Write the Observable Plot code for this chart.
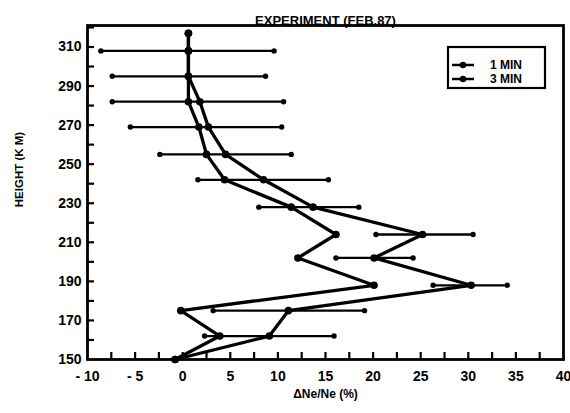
<!DOCTYPE html>
<html>
<head>
<meta charset="utf-8">
<script src="https://cdn.jsdelivr.net/npm/d3@7"></script>
<script src="https://cdn.jsdelivr.net/npm/@observablehq/plot@0.6"></script>
<style>
  html, body { margin: 0; padding: 0; background: #fff; }
  #chart { position: relative; width: 570px; height: 413px; }
</style>
</head>
<body>
<div id="chart"></div>
<script>
// Heights (km) of the measurement levels
const heights = [150, 162, 175, 188, 202, 214, 228, 242, 255, 269, 282, 295, 308, 317];
// ΔNe/Ne (%) for the two series
const min1 = [-0.8, 3.9, -0.2, 20.1, 12.1, 16.1, 11.4, 4.4, 2.5, 1.7, 0.6, 0.6, 0.6, 0.6];
const min3 = [-0.8, 9.1, 11.1, 30.3, 20.1, 25.2, 13.7, 8.5, 4.5, 2.7, 1.8, 0.6, 0.6, 0.6];
// Error bar extents (for the 3 MIN series)
const errLo = [null, 2.3, 3.2, 26.3, 16.1, 20.3, 8.0, 1.6, -2.4, -5.5, -7.4, -7.4, -8.6, null];
const errHi = [null, 15.9, 19.1, 34.1, 24.2, 30.5, 18.5, 15.3, 11.4, 10.4, 10.6, 8.7, 9.6, null];
// Axis ticks
const xTickLabels = [-10, -5, 0, 5, 10, 15, 20, 25, 30, 35, 40];
const xMinorTicks = [-7.5, -5, -2.5, 0, 2.5, 5, 7.5, 10, 12.5, 15, 17.5, 20, 22.5, 25, 27.5, 30, 32.5, 35, 37.5];
const yTickLabels = [150, 170, 190, 210, 230, 250, 270, 290, 310];
const yMinorTicks = [160, 170, 180, 190, 200, 210, 220, 230, 240, 250, 260, 270, 280, 290, 300, 310, 320];
const seriesNames = ["1 MIN", "3 MIN"];
const title = "EXPERIMENT (FEB.87)";
const xLabel = "ΔNe/Ne (%)";
const yLabel = "HEIGHT (K M)";

const xDomain = [-10, 40], yDomain = [150, 321];
const W = 570, H = 413, mL = 87, mR = 7, mT = 25, mB = 54;
// tick length (7 px) expressed in data units of each axis
const tickLenY = 7 * (yDomain[1] - yDomain[0]) / (H - mT - mB);
const tickLenX = 7 * (xDomain[1] - xDomain[0]) / (W - mL - mR);

const s1 = heights.map((h, i) => ({h, v: min1[i]}));
const s3 = heights.map((h, i) => ({h, v: min3[i]}));
const errs = heights.map((h, i) => ({h, lo: errLo[i], hi: errHi[i]})).filter(d => d.lo != null);
const xTickData = xMinorTicks.map(v => ({v, a: yDomain[0], b: yDomain[0] + tickLenY}));
const yTickData = yMinorTicks.map(v => ({v, a: xDomain[0], b: xDomain[0] + tickLenX}));

const font = "Liberation Sans, Arial, sans-serif";

const plot = Plot.plot({
  width: W,
  height: H,
  marginLeft: mL,
  marginRight: mR,
  marginTop: mT,
  marginBottom: mB,
  style: {fontFamily: font, fontWeight: "bold", fontSize: "14px", background: "#fff", color: "#000"},
  x: {domain: xDomain},
  y: {domain: yDomain},
  marks: [
    // inward ticks
    Plot.ruleX(xTickData, {x: "v", y1: "a", y2: "b", stroke: "#000", strokeWidth: 2.2}),
    Plot.ruleY(yTickData, {y: "v", x1: "a", x2: "b", stroke: "#000", strokeWidth: 2.2}),
    // error bars
    Plot.link(errs, {x1: "lo", x2: "hi", y1: "h", y2: "h", stroke: "#000", strokeWidth: 2.3}),
    Plot.dot(errs, {x: "lo", y: "h", r: 2.7, fill: "#000"}),
    Plot.dot(errs, {x: "hi", y: "h", r: 2.7, fill: "#000"}),
    // series lines
    Plot.line(s1, {x: "v", y: "h", stroke: "#000", strokeWidth: 3.3, curve: "linear"}),
    Plot.line(s3, {x: "v", y: "h", stroke: "#000", strokeWidth: 3.3, curve: "linear"}),
    Plot.dot(s1, {x: "v", y: "h", r: 3.8, fill: "#000"}),
    Plot.dot(s3, {x: "v", y: "h", r: 3.8, fill: "#000"}),
    // tick labels
    Plot.axisX({anchor: "bottom", ticks: xTickLabels, tickSize: 0, tickPadding: 12, label: null, fontSize: 14, letterSpacing: 2.5, tickFormat: d => String(d).replace("-", "- ")}),
    Plot.axisY({anchor: "left", ticks: yTickLabels, tickSize: 0, tickPadding: 6, label: null, fontSize: 14}),
    Plot.frame({stroke: "#000", strokeWidth: 2.8}),
    // titles
    Plot.text([title], {frameAnchor: "top", dy: -10, fontSize: 13, fontWeight: "bold", letterSpacing: -0.5}),
    Plot.text([xLabel], {frameAnchor: "bottom", dy: 38, fontSize: 12, fontWeight: "bold"}),
    Plot.text([yLabel], {frameAnchor: "left", textAnchor: "middle", dx: -68, dy: -23, rotate: -90, fontSize: 11.5, fontWeight: "bold"})
  ]
});
document.getElementById("chart").appendChild(plot);

// Legend box
const svg = d3.select(plot);
const lg = svg.append("g").attr("font-family", font).attr("font-weight", "bold").attr("font-size", 12).attr("text-anchor", "start");
lg.append("rect").attr("x", 448).attr("y", 47).attr("width", 97).attr("height", 41)
  .attr("fill", "#fff").attr("stroke", "#000").attr("stroke-width", 2.2);
seriesNames.forEach((name, i) => {
  const y = 65 + i * 14;
  lg.append("line").attr("x1", 452).attr("x2", 474).attr("y1", y).attr("y2", y)
    .attr("stroke", "#000").attr("stroke-width", 2.5);
  lg.append("circle").attr("cx", 463).attr("cy", y).attr("r", 3.2).attr("fill", "#000");
  lg.append("text").attr("x", 490).attr("y", y).attr("dy", "0.35em").attr("text-anchor", "start").text(name);
});
</script>
</body>
</html>
